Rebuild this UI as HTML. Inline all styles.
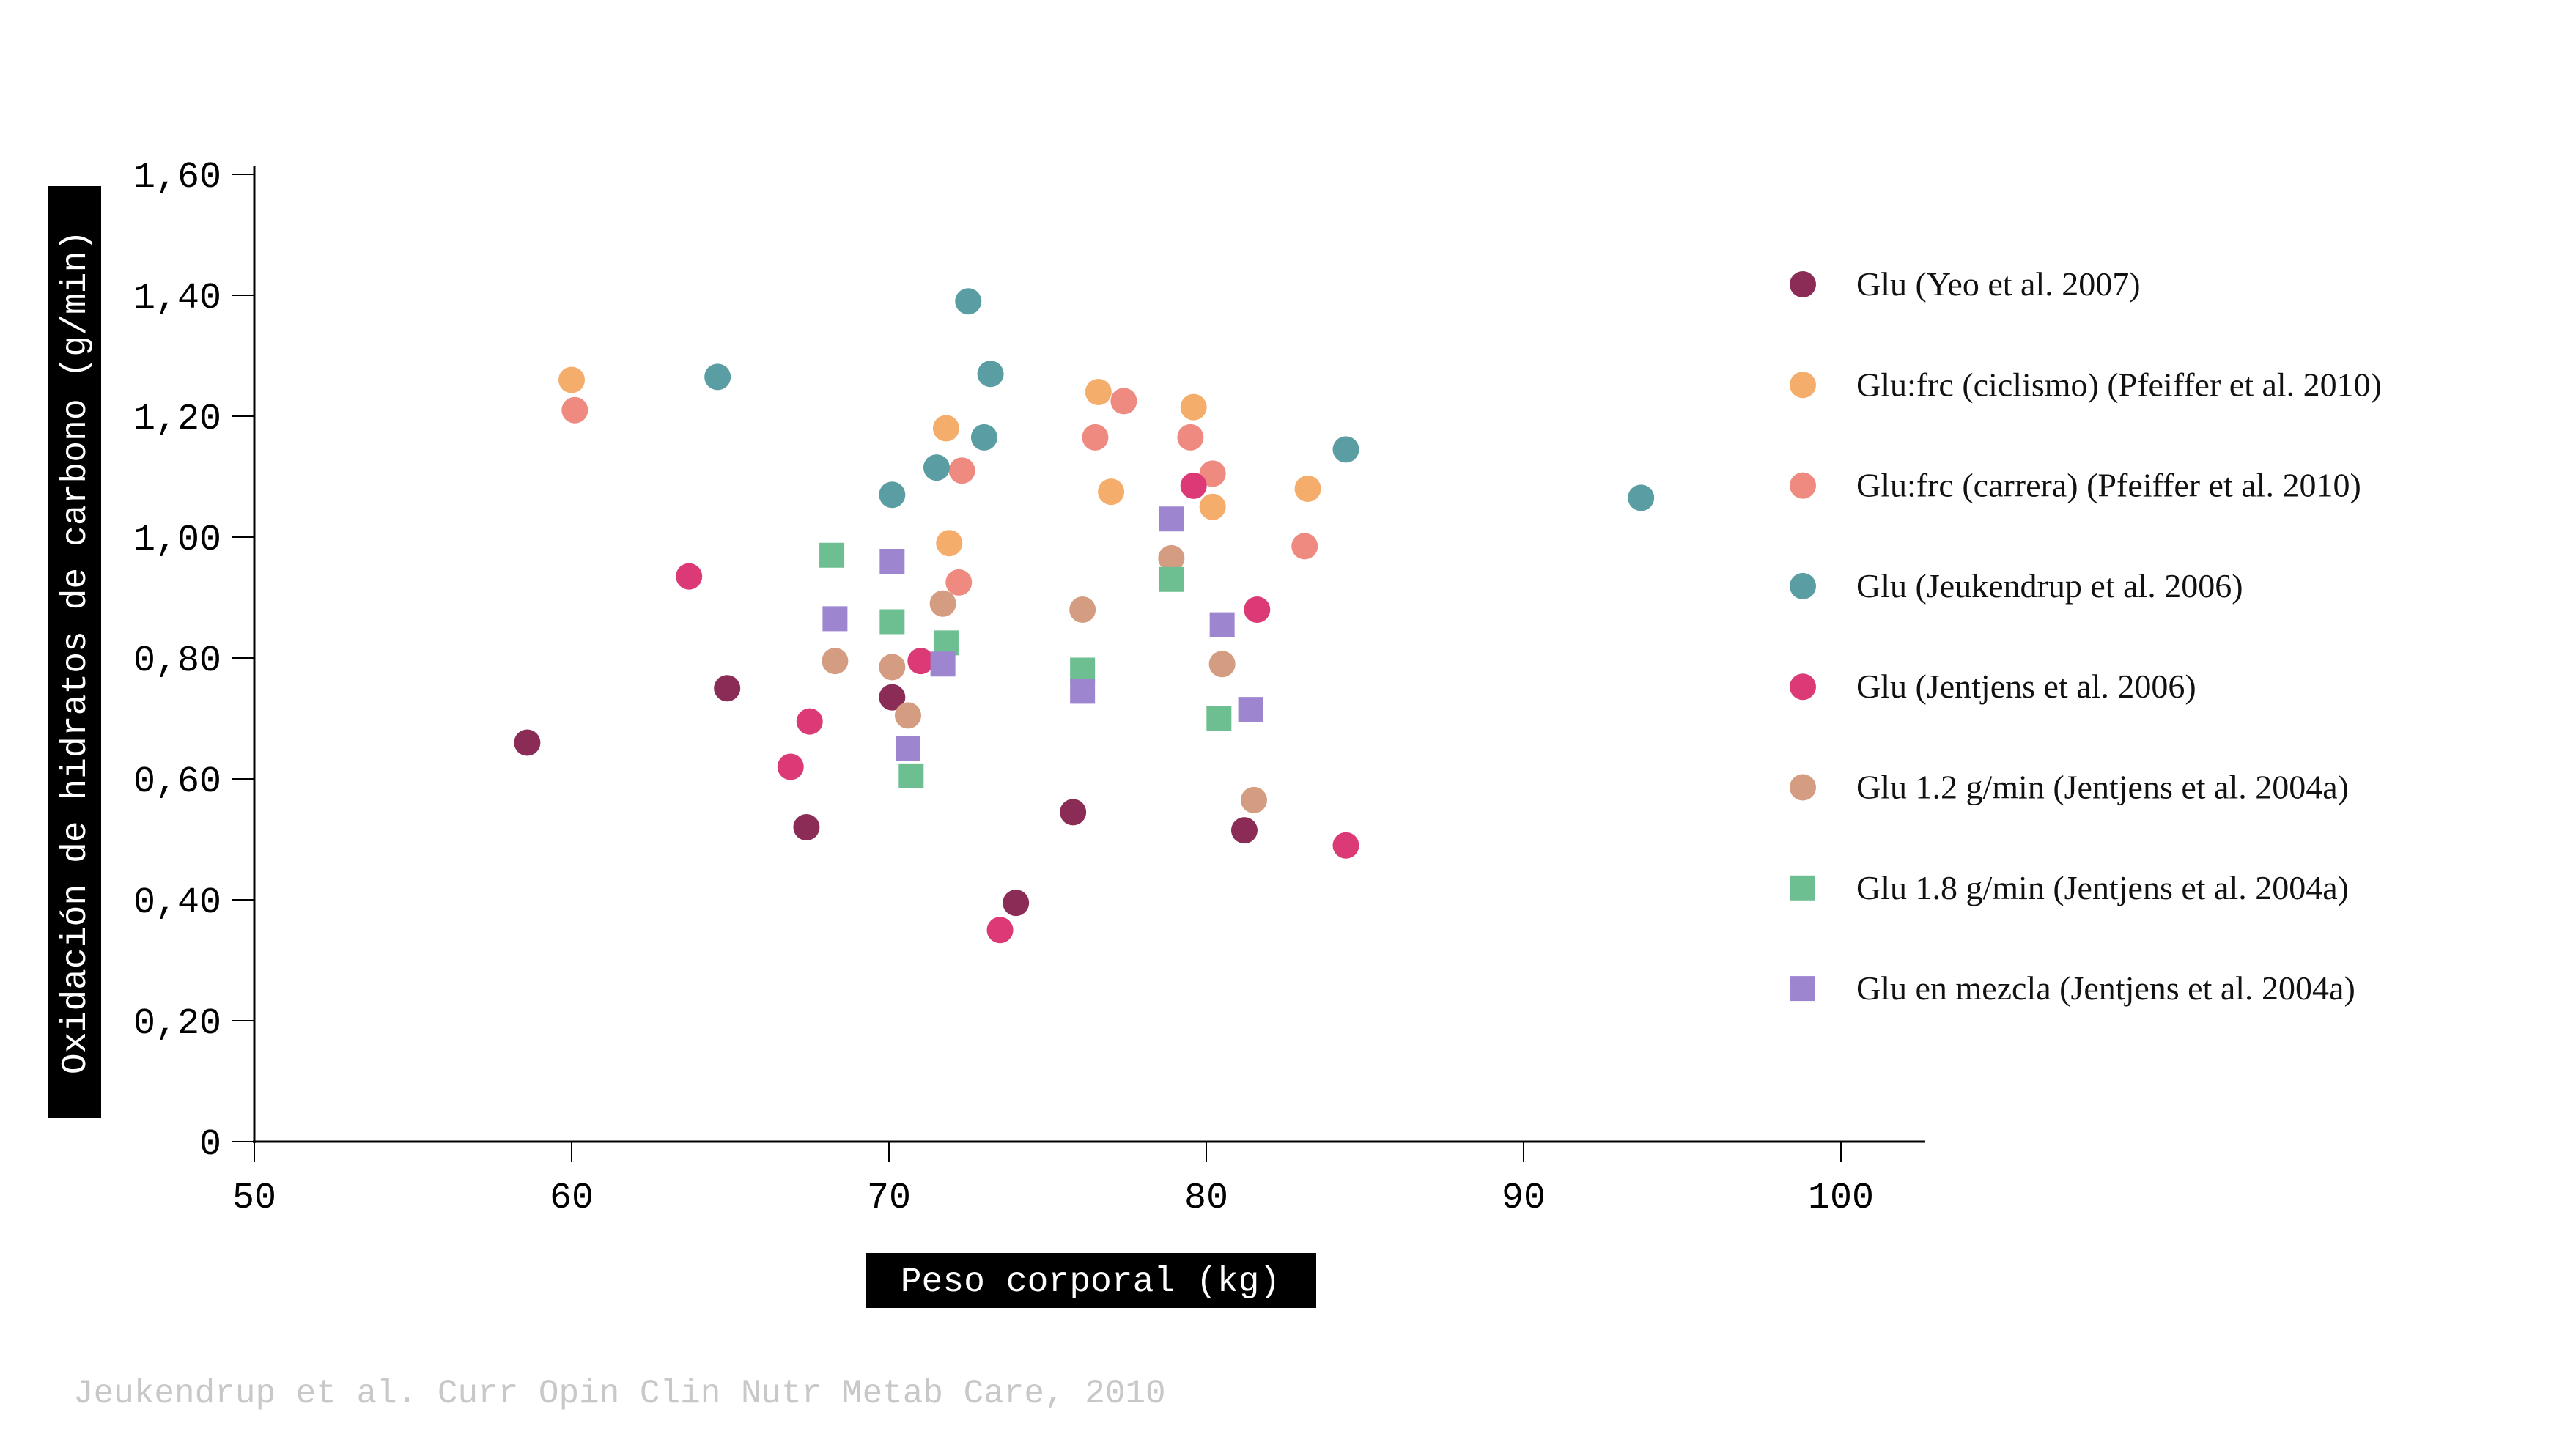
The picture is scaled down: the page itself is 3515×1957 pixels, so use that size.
<!DOCTYPE html>
<html><head><meta charset="utf-8">
<style>
html,body{margin:0;padding:0;background:#fff;}
svg{display:block;}
.tick{font-family:"Liberation Mono","DejaVu Sans Mono",monospace;font-size:50px;fill:#000;}
.leg{font-family:"Liberation Serif",serif;font-size:46px;fill:#111;}
</style></head>
<body>
<svg id="chart" width="3515" height="1957" viewBox="0 0 3515 1957" xmlns="http://www.w3.org/2000/svg">
  <rect x="66" y="254" width="72" height="1272" fill="#000"/>
  <text x="0" y="0" transform="translate(116,890) rotate(-90)" text-anchor="middle" font-family="Liberation Mono, monospace" font-size="48" fill="#fff">Oxidación de hidratos de carbono (g/min)</text>
  <rect x="1181" y="1710" width="615" height="75" fill="#000"/>
  <text x="1488" y="1762" text-anchor="middle" font-family="Liberation Mono, monospace" font-size="48" fill="#fff">Peso corporal (kg)</text>
  <text x="100" y="1914" font-family="Liberation Mono, monospace" font-size="46" fill="#c8c8c8">Jeukendrup et al. Curr Opin Clin Nutr Metab Care, 2010</text>
  <g id="axes"></g>
  <g id="marks"></g>
  <g id="legend"></g>
</svg>
<script>
const xTicks = [50, 60, 70, 80, 90, 100];
const yTicks = [0, 0.2, 0.4, 0.6, 0.8, 1.0, 1.2, 1.4, 1.6];
const yTickLabels = ["0", "0,20", "0,40", "0,60", "0,80", "1,00", "1,20", "1,40", "1,60"];
const seriesNames = ["Glu (Yeo et al. 2007)", "Glu:frc (ciclismo) (Pfeiffer et al. 2010)", "Glu:frc (carrera) (Pfeiffer et al. 2010)", "Glu (Jeukendrup et al. 2006)", "Glu (Jentjens et al. 2006)", "Glu 1.2 g/min (Jentjens et al. 2004a)", "Glu 1.8 g/min (Jentjens et al. 2004a)", "Glu en mezcla (Jentjens et al. 2004a)"];
const seriesColors = ["#8b2c57", "#f4ad6b", "#ef8a80", "#5a9ea3", "#dc3a77", "#d49c80", "#6dbf91", "#9d86cf"];
const seriesShapes = ["circle", "circle", "circle", "circle", "circle", "circle", "square", "square"];
const yeoX = [58.6, 64.9, 67.4, 70.1, 74.0, 75.8, 81.2];
const yeoY = [0.66, 0.75, 0.52, 0.735, 0.395, 0.545, 0.515];
const cycX = [60.0, 71.8, 71.9, 76.6, 77.0, 79.6, 80.2, 83.2];
const cycY = [1.26, 1.18, 0.99, 1.24, 1.075, 1.215, 1.05, 1.08];
const runX = [60.1, 72.3, 72.2, 76.5, 77.4, 79.5, 80.2, 83.1];
const runY = [1.21, 1.11, 0.925, 1.165, 1.225, 1.165, 1.105, 0.985];
const jeuX = [64.6, 70.1, 71.5, 72.5, 73.0, 73.2, 84.4, 93.7];
const jeuY = [1.265, 1.07, 1.115, 1.39, 1.165, 1.27, 1.145, 1.065];
const jen06X = [63.7, 66.9, 67.5, 71.0, 73.5, 79.6, 81.6, 84.4];
const jen06Y = [0.935, 0.62, 0.695, 0.795, 0.35, 1.085, 0.88, 0.49];
const g12X = [68.3, 70.1, 70.6, 71.7, 76.1, 78.9, 80.5, 81.5];
const g12Y = [0.795, 0.785, 0.705, 0.89, 0.88, 0.965, 0.79, 0.565];
const g18X = [68.2, 70.1, 70.7, 71.8, 76.1, 78.9, 80.4];
const g18Y = [0.97, 0.86, 0.605, 0.825, 0.78, 0.93, 0.70];
const mixX = [68.3, 70.1, 70.6, 71.7, 76.1, 78.9, 80.5, 81.4];
const mixY = [0.865, 0.96, 0.65, 0.79, 0.745, 1.03, 0.855, 0.715];

const allX = [yeoX, cycX, runX, jeuX, jen06X, g12X, g18X, mixX];
const allY = [yeoY, cycY, runY, jeuY, jen06Y, g12Y, g18Y, mixY];

const NS = "http://www.w3.org/2000/svg";
const X0 = 347, XPER = 43.3, Y0 = 1558, YPER = 825;
function sx(v){ return X0 + (v - 50) * XPER; }
function sy(v){ return Y0 - v * YPER; }
function mk(tag, attrs, parent){ const e = document.createElementNS(NS, tag); for (const k in attrs) e.setAttribute(k, attrs[k]); parent.appendChild(e); return e; }

const axes = document.getElementById("axes");
let l = mk("line", {x1: X0, y1: sy(1.6) - 12, x2: X0, y2: Y0 + 2, stroke: "#000", "stroke-width": 3}, axes);


l = mk("line", {x1: X0 - 2, y1: Y0, x2: 2627, y2: Y0, stroke: "#000", "stroke-width": 3}, axes);


yTicks.forEach((v, i) => {
  const t = mk("line", {x1: X0 - 30, y1: sy(v), x2: X0, y2: sy(v), stroke: "#000", "stroke-width": 2}, axes);
  
  
  const tx = mk("text", {x: 302, y: sy(v) + 17, "text-anchor": "end", class: "tick"}, axes);
  tx.textContent = yTickLabels[i];
  
  
});
xTicks.forEach(v => {
  const t = mk("line", {x1: sx(v), y1: Y0, x2: sx(v), y2: Y0 + 28, stroke: "#000", "stroke-width": 2}, axes);
  
  
  const tx = mk("text", {x: sx(v), y: 1648, "text-anchor": "middle", class: "tick"}, axes);
  tx.textContent = String(v);
  
  
});

const marks = document.getElementById("marks");
function drawMark(shape, cx, cy, color, parent){
  if (shape === "circle") return mk("circle", {cx: cx, cy: cy, r: 18, fill: color}, parent);
  return mk("rect", {x: cx - 17, y: cy - 17, width: 34, height: 34, fill: color}, parent);
}
allX.forEach((xs, s) => {
  xs.forEach((xv, i) => {
    const m = drawMark(seriesShapes[s], sx(xv), sy(allY[s][i]), seriesColors[s], marks);
    
    
  });
});

const legend = document.getElementById("legend");
seriesNames.forEach((name, i) => {
  const y = 388 + i * 137.3;
  const g = mk("g", {}, legend);
  
  
  drawMark(seriesShapes[i], 2460, y, seriesColors[i], g);
  const t = mk("text", {x: 2533, y: y + 15, class: "leg"}, g);
  t.textContent = name;
});
</script>
</body></html>
